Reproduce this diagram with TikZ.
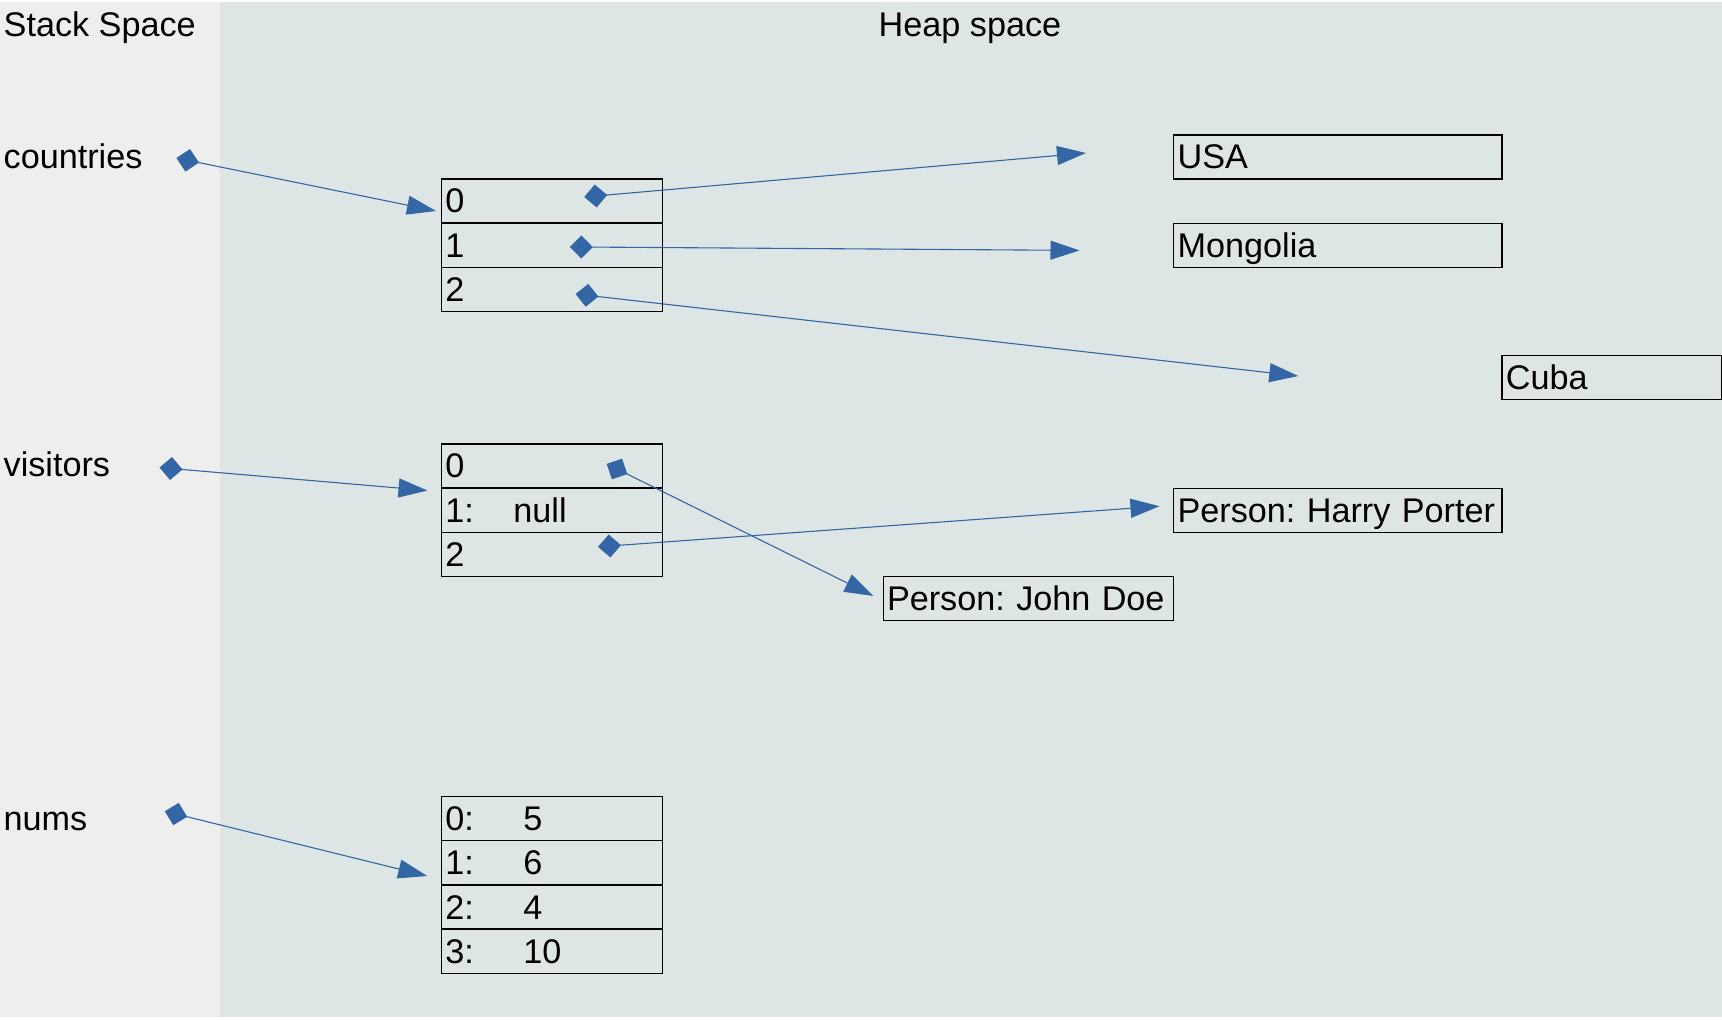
\documentclass[tikz,border=0pt]{standalone}
\usepackage{fontspec}
\setmainfont{Liberation Sans}
\usetikzlibrary{arrows.meta}
\definecolor{stackbg}{HTML}{EEEEEE}
\definecolor{heapbg}{HTML}{DEE6E5}
\definecolor{ptr}{HTML}{3465A4}
\begin{document}
\frenchspacing
\begin{tikzpicture}[x=1pt,y=-1pt,
  every node/.style={font=\fontsize{34.2}{40}\selectfont\frenchspacing, inner sep=0pt},
  lbl/.style={anchor=base west},
  cell/.style={draw=black, line width=1.2pt, anchor=north west, inner xsep=3.8pt, inner ysep=0pt,
    text height=34pt, text depth=10pt, text width=#1, align=left},
  ptrline/.style={draw=ptr, line width=1.1pt,
    {Diamond[length=23pt,width=23pt]}-{Triangle[length=29pt,width=19pt]}, shorten <=-11.5pt},
]
\useasboundingbox (0,0) rectangle (1722,1020);
\fill[white] (0,0) rectangle (1722,1020);
\fill[stackbg] (0,2) rectangle (220,1017);
\fill[heapbg] (220,2) rectangle (1722,1017);

% titles and variable names
\node[lbl] (stacktitle) at (3.5,36) {Stack Space};
\node[lbl] (heaptitle) at (878.5,36) {Heap space};
\node[lbl] (countries) at (3.5,168.3) {countries};
\node[lbl] (visitors) at (3.5,476.7) {visitors};
\node[lbl] (nums) at (3.5,830) {nums};

% countries array
\node[cell=213pt] (c0) at (441,178.3) {0};
\node[cell=213pt] (c1) at (441,222.5) {1};
\node[cell=213pt] (c2) at (441,266.7) {2};

% visitors array
\node[cell=213pt] (v0) at (441,443.3) {0};
\node[cell=213pt] (v1) at (441,487.5) {\makebox[68pt][l]{1:}null};
\node[cell=213pt] (v2) at (441,531.7) {2};

% nums array
\node[cell=213pt] (n0) at (441,796) {\makebox[78pt][l]{0:}5};
\node[cell=213pt] (n1) at (441,840.2) {\makebox[78pt][l]{1:}6};
\node[cell=213pt] (n2) at (441,884.4) {\makebox[78pt][l]{2:}4};
\node[cell=213pt] (n3) at (441,928.6) {\makebox[78pt][l]{3:}10};

% heap objects
\node[cell=320.6pt] (usa) at (1173.2,134.3) {USA};
\node[cell=320.6pt] (mongolia) at (1173.2,222.5) {Mongolia};
\node[cell=212.4pt] (cuba) at (1501.4,355.1) {Cuba};
\node[cell=320.6pt] (harry) at (1173.2,487.5) {\mbox{Person: Harry Porter}};
\node[cell=283pt] (john) at (882.6,575.7) {\mbox{Person: John Doe}};

% pointer origins and free ends
\coordinate (pcountries) at (187.7,160.3);
\coordinate (tcountries) at (436,211);
\coordinate (pc0) at (595.7,196);
\coordinate (tc0) at (1086,153);
\coordinate (pc1) at (581.3,247);
\coordinate (tc1) at (1079.5,250.4);
\coordinate (pc2) at (587,295.3);
\coordinate (tc2) at (1298.3,376);
\coordinate (pvisitors) at (171,468.5);
\coordinate (tvisitors) at (427.5,490.5);
\coordinate (pv0) at (617,469);
\coordinate (tv0) at (873.5,596);
\coordinate (pv2) at (609.5,546);
\coordinate (tv2) at (1159.5,506.2);
\coordinate (pnums) at (176,814);
\coordinate (tnums) at (427.2,876);

\draw[ptrline] (pcountries) -- (tcountries);
\draw[ptrline] (pc0) -- (tc0);
\draw[ptrline] (pc1) -- (tc1);
\draw[ptrline] (pc2) -- (tc2);
\draw[ptrline] (pvisitors) -- (tvisitors);
\draw[ptrline] (pv0) -- (tv0);
\draw[ptrline] (pv2) -- (tv2);
\draw[ptrline] (pnums) -- (tnums);
\end{tikzpicture}
\end{document}
